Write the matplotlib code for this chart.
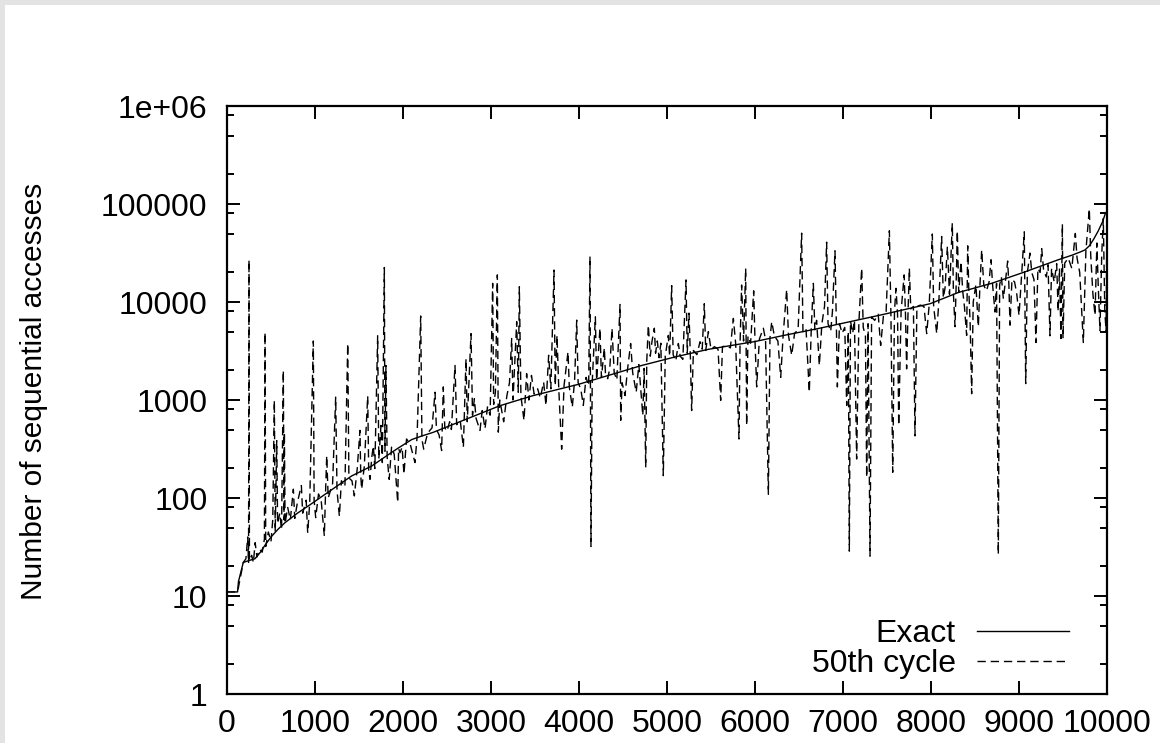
import matplotlib
matplotlib.use("Agg")
import matplotlib.pyplot as plt
from matplotlib.patches import Rectangle
from matplotlib.ticker import FixedLocator, NullFormatter

plt.rcParams['font.family'] = ['Liberation Sans', 'DejaVu Sans']
plt.rcParams['font.size'] = 23
plt.rcParams['lines.scale_dashes'] = False

# exact curve (sorted)
exact_x = [0, 120, 130, 185, 250, 318, 380, 432, 500, 580, 659, 800, 924, 1114, 1417,
           1644, 1871, 1950, 2100, 2200, 2344, 2723, 3102, 3481, 4000, 4333, 4712,
           5091, 5470, 6000, 6322, 6701, 7080, 7458, 7989, 8310, 8689, 9068, 9447,
           9600, 9700, 9750, 9800, 9850, 9900, 9950, 9977, 10000]
exact_y = [11, 11, 14, 22, 23, 24, 28, 33, 40, 48, 56, 70, 83, 109, 168,
           212, 292, 325, 395, 425, 468, 640, 875, 1110, 1450, 1780, 2250,
           2750, 3290, 3950, 4550, 5320, 6300, 7470, 9600, 12500, 15500, 20300, 27000,
           30000, 32500, 34000, 37500, 44000, 53000, 66000, 78000, 85000]

# 50th cycle, (x, y) pairs per 1000-wide stretch
cycle_0k = [(0, 11), (120, 11), (185, 22), (215, 24), (235, 40), (245, 22), (250, 26900), (255, 23),
            (280, 26), (300, 22), (320, 35), (340, 25), (370, 30), (400, 28), (425, 38), (432, 4900),
            (440, 32), (470, 45), (500, 36), (520, 60), (538, 990), (548, 45), (565, 385), (575, 55),
            (600, 70), (620, 48), (640, 2000), (648, 60), (652, 470), (660, 55), (690, 80), (720, 60),
            (754, 123), (770, 62), (800, 90), (845, 134), (860, 70), (900, 95), (917, 44), (940, 90),
            (981, 4000), (990, 95)]
cycle_1k = [(1008, 63), (1040, 110), (1070, 95), (1106, 41), (1120, 115), (1133, 270), (1150, 100),
            (1200, 140), (1235, 1070), (1250, 120), (1277, 65), (1300, 150), (1340, 130), (1372, 3770),
            (1385, 160), (1420, 150), (1447, 105), (1480, 200), (1511, 490), (1520, 170), (1530, 123),
            (1560, 210), (1599, 1100), (1610, 190), (1625, 155), (1645, 260), (1663, 340), (1680, 200),
            (1712, 4520), (1725, 250), (1750, 550), (1765, 230), (1788, 22500), (1795, 300), (1806, 2250),
            (1820, 260), (1843, 155), (1870, 330), (1900, 280), (1940, 90), (1950, 320), (1966, 290),
            (1990, 330)]
cycle_2k = [(2011, 175), (2040, 400), (2080, 360), (2136, 230), (2160, 420), (2201, 7200), (2215, 400),
            (2235, 315), (2280, 460), (2330, 520), (2364, 1200), (2380, 500), (2410, 440), (2439, 305),
            (2458, 1360), (2475, 520), (2500, 480), (2530, 600), (2550, 500), (2591, 2250), (2610, 560),
            (2650, 620), (2686, 330), (2716, 2640), (2730, 600), (2773, 4760), (2790, 700), (2811, 1030),
            (2830, 650), (2875, 490), (2900, 780), (2932, 510), (2960, 850), (2990, 700)]
cycle_3k = [(3019, 15500), (3030, 900), (3050, 1200), (3072, 18900), (3083, 470), (3100, 1000),
            (3144, 600), (3180, 1100), (3210, 1500), (3235, 4240), (3250, 1000), (3292, 6300),
            (3310, 1200), (3322, 14300), (3340, 1100), (3375, 620), (3405, 1860), (3430, 1000),
            (3460, 1780), (3490, 1150), (3530, 1300), (3560, 1050), (3598, 1520), (3625, 880),
            (3655, 2860), (3680, 1300), (3716, 21200), (3730, 1400), (3750, 4560), (3770, 1300),
            (3803, 315), (3830, 1400), (3875, 3100), (3890, 1350), (3924, 845), (3950, 1600),
            (3974, 6530), (3990, 1500)]
cycle_4k = [(4020, 1300), (4049, 880), (4080, 1700), (4110, 1400), (4125, 29100), (4136, 32),
            (4150, 1500), (4186, 7050), (4200, 1600), (4238, 5400), (4255, 1700), (4288, 3400),
            (4300, 1900), (4326, 1650), (4350, 2100), (4375, 5400), (4400, 1900), (4430, 1600),
            (4466, 9440), (4474, 620), (4490, 1500), (4523, 1110), (4550, 2000), (4587, 3770),
            (4610, 1900), (4650, 1200), (4680, 2300), (4725, 695), (4740, 2100), (4758, 205),
            (4770, 2500), (4788, 5800), (4810, 2800), (4830, 4000), (4856, 5400), (4870, 3000),
            (4890, 4000), (4910, 2700), (4930, 3800), (4958, 169), (4980, 2800)]
cycle_5k = [(5015, 4560), (5030, 2800), (5053, 14700), (5070, 2900), (5100, 2500), (5129, 3770),
            (5150, 2800), (5180, 2600), (5216, 16800), (5230, 3000), (5250, 7700), (5265, 2900),
            (5280, 780), (5300, 3200), (5340, 2900), (5375, 3930), (5400, 3300), (5424, 9600),
            (5440, 3200), (5470, 4990), (5500, 3300), (5540, 3500), (5580, 3300), (5610, 990),
            (5630, 3500), (5680, 3600), (5720, 3400), (5754, 6800), (5780, 3800), (5818, 400),
            (5830, 3700), (5848, 14900), (5870, 4000), (5894, 22100), (5905, 550), (5920, 4500),
            (5950, 3800), (5985, 13000)]
cycle_6k = [(6000, 4000), (6019, 1360), (6050, 4200), (6095, 5400), (6120, 4100), (6152, 109),
            (6170, 4300), (6190, 6300), (6220, 4500), (6260, 4000), (6292, 1700), (6320, 4600),
            (6360, 13400), (6380, 4600), (6417, 2860), (6450, 4800), (6490, 5200), (6530, 50400),
            (6545, 4900), (6580, 5300), (6617, 1200), (6640, 5500), (6663, 15500), (6680, 5200),
            (6700, 6500), (6731, 2250), (6760, 6000), (6790, 9000), (6814, 40800), (6830, 6000),
            (6860, 5000), (6880, 8000), (6909, 33300), (6925, 5600), (6936, 1360), (6960, 6000),
            (6990, 4800)]
cycle_7k = [(7020, 5500), (7042, 880), (7060, 5000), (7072, 28.7), (7085, 6400), (7110, 4800),
            (7130, 6500), (7155, 250), (7180, 6000), (7212, 22100), (7230, 5500), (7255, 4500),
            (7269, 162), (7285, 6000), (7307, 25.5), (7325, 7000), (7360, 6500), (7400, 7500),
            (7428, 3600), (7460, 7300), (7490, 8000), (7527, 53300), (7545, 7000), (7565, 183),
            (7585, 8000), (7602, 13800), (7620, 7500), (7633, 550), (7660, 8000), (7695, 18900),
            (7710, 7500), (7723, 2080), (7740, 8500), (7754, 22100), (7770, 8500), (7800, 9000),
            (7818, 430), (7840, 9000), (7880, 9300), (7920, 9000), (7951, 4760), (7980, 9500)]
cycle_8k = [(8015, 49400), (8030, 9000), (8065, 4760), (8090, 10500), (8121, 46600), (8140, 11000),
            (8160, 14000), (8186, 36700), (8210, 12000), (8242, 63900), (8255, 12000), (8273, 5600),
            (8285, 14000), (8299, 53300), (8315, 12500), (8341, 25900), (8360, 13000), (8380, 9000),
            (8405, 4560), (8417, 37400), (8430, 13000), (8445, 6000), (8462, 1160), (8480, 10000),
            (8510, 15000), (8538, 5600), (8555, 14000), (8576, 34000), (8600, 14800), (8630, 13000),
            (8660, 16000), (8682, 27000), (8700, 15000), (8727, 7900), (8745, 15500), (8765, 26.6),
            (8780, 15000), (8800, 18000), (8822, 10800), (8845, 16000), (8871, 26200), (8885, 15000),
            (8898, 5800), (8920, 17000), (8950, 16000), (8975, 12000)]
cycle_9k = [(9000, 7300), (9030, 19000), (9060, 52000), (9076, 1470), (9095, 20000), (9125, 31600),
            (9145, 20000), (9170, 17000), (9193, 3860), (9215, 22000), (9240, 20000), (9258, 35000),
            (9280, 21000), (9310, 18000), (9330, 24000), (9352, 4520), (9370, 22000), (9400, 16000),
            (9428, 24600), (9445, 8000), (9460, 22000), (9477, 4240), (9493, 62400), (9500, 4240),
            (9520, 25000), (9560, 28000), (9600, 22000), (9640, 50100), (9660, 28000), (9690, 20000),
            (9731, 3860), (9760, 33000), (9799, 89600), (9815, 30000), (9840, 12000), (9864, 7300),
            (9885, 40000), (9900, 15000), (9920, 5100), (9940, 30000), (9958, 71000), (9975, 8000),
            (9990, 5000), (10000, 80000)]

x_ticks = list(range(0, 10001, 1000))
y_ticks = [1, 10, 100, 1000, 10000, 100000, 1000000]
y_tick_labels = ['1', '10', '100', '1000', '10000', '100000', '1e+06']
y_minor = [2, 5, 8, 20, 50, 80, 200, 500, 800, 2000, 5000, 8000,
           20000, 50000, 80000, 200000, 500000, 800000]

cycle = (cycle_0k + cycle_1k + cycle_2k + cycle_3k + cycle_4k +
         cycle_5k + cycle_6k + cycle_7k + cycle_8k + cycle_9k)
cycle_x = [p[0] for p in cycle]
cycle_y = [p[1] for p in cycle]

fig = plt.figure(figsize=(11.6, 7.43), dpi=100, facecolor='#e3e3e3')
# white page with a thin grey margin at the top and left
fig.patches.append(Rectangle((5 / 1160, 0), 1, 1 - 5 / 743, transform=fig.transFigure,
                             facecolor='white', edgecolor='none', zorder=-10))
ax = fig.add_axes([227 / 1160, 49 / 743, 880 / 1160, 588 / 743])
ax.set_facecolor('none')

exact_line, = ax.plot(exact_x, exact_y, color='black', linewidth=1.0, label='Exact')
cycle_line, = ax.plot(cycle_x, cycle_y, color='black', linewidth=1.0,
                      dashes=(6, 3.5), label='50th cycle')

ax.set_yscale('log')
ax.set_xlim(0, 10000)
ax.set_ylim(1, 1e6)
ax.set_xticks(x_ticks)
ax.set_xticklabels([str(t) for t in x_ticks])
ax.set_yticks(y_ticks)
ax.set_yticklabels(y_tick_labels)
ax.yaxis.set_minor_locator(FixedLocator(y_minor))
ax.yaxis.set_minor_formatter(NullFormatter())
ax.xaxis.set_minor_locator(FixedLocator([]))

ax.tick_params(which='both', direction='in', top=True, right=True, width=1.4)
ax.tick_params(which='major', length=9.5)
ax.tick_params(which='minor', length=5)
ax.tick_params(axis='y', pad=14)
ax.tick_params(axis='x', pad=11)
for s in ax.spines.values():
    s.set_linewidth(1.6)

ax.set_ylabel('Number of sequential accesses', fontsize=21.5)
ax.yaxis.set_label_coords(-0.203, 0.515)

ax.legend(handles=[exact_line, cycle_line], loc='lower right', bbox_to_anchor=(0.957, 0.025),
          frameon=False, markerfirst=False, handlelength=2.9, handletextpad=0.65,
          labelspacing=0.0, borderpad=0, borderaxespad=0)

fig.savefig('out.png', dpi=100, facecolor=fig.get_facecolor())
